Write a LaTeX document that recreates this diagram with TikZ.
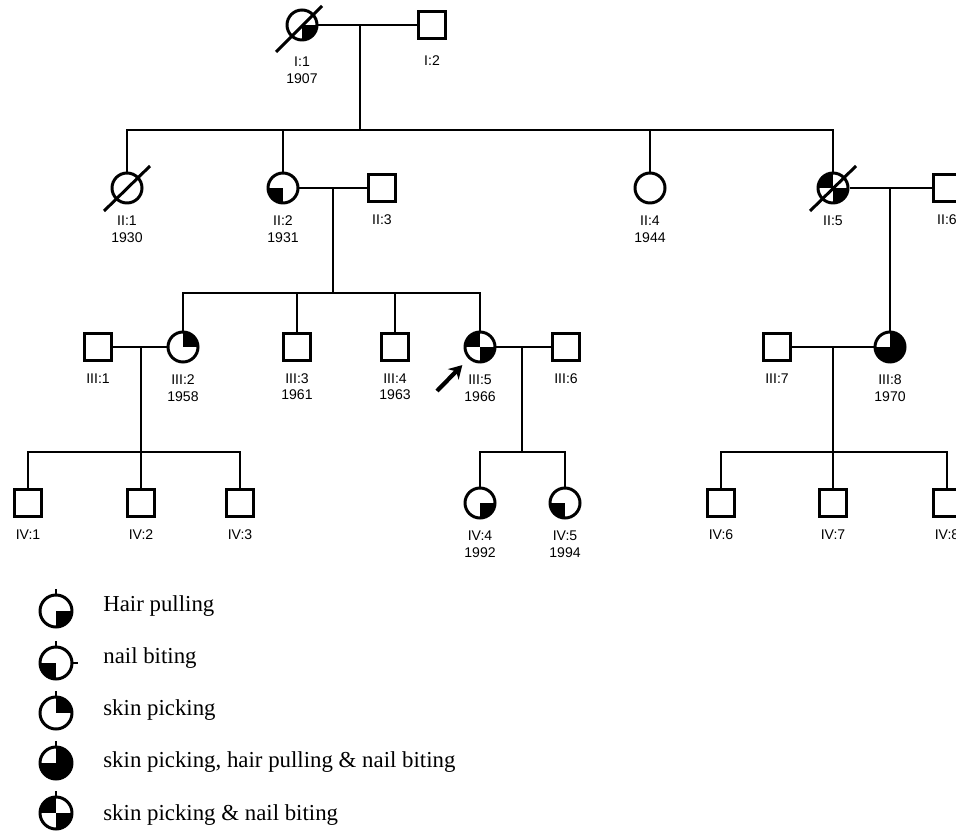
\documentclass[tikz,border=0pt]{standalone}
\usepackage{fontspec}
\setmainfont{Liberation Serif}
\setsansfont{Liberation Sans}
\usetikzlibrary{arrows.meta,positioning,calc}

\begin{document}
\begin{tikzpicture}[
    x=0.02cm, y=-0.02cm,
    male/.style={rectangle, draw=black, fill=white, line width=1.7pt, minimum size=0.54cm, inner sep=0pt},
    female/.style={circle, draw=black, fill=white, line width=1.7pt, minimum size=0.6cm, inner sep=0pt},
    quad/.style={path picture={\foreach \c in {#1} {\fill[black] (path picture bounding box.center) rectangle (path picture bounding box.\c);}}},
    idlab/.style={font=\sffamily\fontsize{8}{9}\selectfont, inner sep=0pt},
    yearlab/.style={font=\sffamily\fontsize{8}{9}\selectfont, inner sep=0pt},
    line/.style={line width=1.1pt},
    dead/.style={line width=1.7pt},
    proband/.style={-{Stealth[length=0.26cm, width=0.3cm]}, line width=2.4pt, shorten >=5pt},
    legtext/.style={anchor=west, font=\fontsize{13}{15}\selectfont, inner sep=0pt}
]
\useasboundingbox (0,0) rectangle (956,831);

% Generation I
\node[female, quad={south east}] (i1) at (302,25) {};
\node[male] (i2) at (432,25) {};
\draw[line] (i1) -- (i2);
\draw[dead] ($(i1)+(-26,27)$) -- ($(i1)+(20,-19)$);
\node[idlab, below=0.3cm of i1] (i1l) {I:1};
\node[yearlab, below=0.12cm of i1l] (i1y) {1907};
\node[idlab, below=0.3cm of i2] (i2l) {I:2};
\coordinate (m1) at (360,25);
\coordinate (s1) at (360,130);
\draw[line] (m1) -- (s1);

% Generation II
\node[female] (ii1) at (127,188) {};
\node[female, quad={south west}] (ii2) at (283,188) {};
\node[male] (ii3) at (382,188) {};
\node[female] (ii4) at (650,188) {};
\node[female, quad={north west,south east}] (ii5) at (833,188) {};
\node[male] (ii6) at (947,188) {};
\draw[dead] ($(ii1)+(-23,23)$) -- ($(ii1)+(23,-22)$);
\draw[dead] ($(ii5)+(-23,23)$) -- ($(ii5)+(23,-22)$);
\foreach \n in {ii1,ii2,ii4,ii5} \draw[line] (\n) |- (s1);
\draw[line] (ii2) -- (ii3);
\draw[line] (ii5) -- (ii6);
\node[idlab, below=0.22cm of ii1] (ii1l) {II:1};
\node[yearlab, below=0.12cm of ii1l] (ii1y) {1930};
\node[idlab, below=0.22cm of ii2] (ii2l) {II:2};
\node[yearlab, below=0.12cm of ii2l] (ii2y) {1931};
\node[idlab, below=0.22cm of ii3] (ii3l) {II:3};
\node[idlab, below=0.22cm of ii4] (ii4l) {II:4};
\node[yearlab, below=0.12cm of ii4l] (ii4y) {1944};
\node[idlab, below=0.22cm of ii5] (ii5l) {II:5};
\node[idlab, below=0.22cm of ii6] (ii6l) {II:6};
\coordinate (m2) at (333,188);
\coordinate (s2) at (333,293);
\draw[line] (m2) -- (s2);
\coordinate (m3) at (890,188);

% Generation III
\node[male] (iii1) at (98,347) {};
\node[female, quad={north east}] (iii2) at (183,347) {};
\node[male] (iii3) at (297,347) {};
\node[male] (iii4) at (395,347) {};
\node[female, quad={north west,south east}] (iii5) at (480,347) {};
\node[male] (iii6) at (566,347) {};
\node[male] (iii7) at (777,347) {};
\node[female, quad={north east,south east,south west}] (iii8) at (890,347) {};
\foreach \n in {iii2,iii3,iii4,iii5} \draw[line] (\n) |- (s2);
\draw[line] (m3) -- (iii8);
\draw[line] (iii1) -- (iii2);
\draw[line] (iii5) -- (iii6);
\draw[line] (iii7) -- (iii8);
\node[idlab, below=0.22cm of iii1] (iii1l) {III:1};
\node[idlab, below=0.22cm of iii2] (iii2l) {III:2};
\node[yearlab, below=0.12cm of iii2l] (iii2y) {1958};
\node[idlab, below=0.22cm of iii3] (iii3l) {III:3};
\node[yearlab, below=0.12cm of iii3l] (iii3y) {1961};
\node[idlab, below=0.22cm of iii4] (iii4l) {III:4};
\node[yearlab, below=0.12cm of iii4l] (iii4y) {1963};
\node[idlab, below=0.22cm of iii5] (iii5l) {III:5};
\node[yearlab, below=0.12cm of iii5l] (iii5y) {1966};
\node[idlab, below=0.22cm of iii6] (iii6l) {III:6};
\node[idlab, below=0.22cm of iii7] (iii7l) {III:7};
\node[idlab, below=0.22cm of iii8] (iii8l) {III:8};
\node[yearlab, below=0.12cm of iii8l] (iii8y) {1970};
\coordinate (pa) at (437,391);
\draw[proband] (pa) -- (iii5);
\coordinate (m4) at (141,347);
\coordinate (s4) at (141,452);
\coordinate (m5) at (522,347);
\coordinate (s5) at (522,452);
\coordinate (m6) at (833,347);
\coordinate (s6) at (833,452);
\draw[line] (m4) -- (s4);
\draw[line] (m5) -- (s5);
\draw[line] (m6) -- (s6);

% Generation IV
\node[male] (iv1) at (28,503) {};
\node[male] (iv2) at (141,503) {};
\node[male] (iv3) at (240,503) {};
\node[female, quad={south east}] (iv4) at (480,503) {};
\node[female, quad={south west}] (iv5) at (565,503) {};
\node[male] (iv6) at (721,503) {};
\node[male] (iv7) at (833,503) {};
\node[male] (iv8) at (947,503) {};
\foreach \n in {iv1,iv2,iv3} \draw[line] (\n) |- (s4);
\foreach \n in {iv4,iv5} \draw[line] (\n) |- (s5);
\foreach \n in {iv6,iv7,iv8} \draw[line] (\n) |- (s6);
\node[idlab, below=0.22cm of iv1] (iv1l) {IV:1};
\node[idlab, below=0.22cm of iv2] (iv2l) {IV:2};
\node[idlab, below=0.22cm of iv3] (iv3l) {IV:3};
\node[idlab, below=0.22cm of iv4] (iv4l) {IV:4};
\node[yearlab, below=0.12cm of iv4l] (iv4y) {1992};
\node[idlab, below=0.22cm of iv5] (iv5l) {IV:5};
\node[yearlab, below=0.12cm of iv5l] (iv5y) {1994};
\node[idlab, below=0.22cm of iv6] (iv6l) {IV:6};
\node[idlab, below=0.22cm of iv7] (iv7l) {IV:7};
\node[idlab, below=0.22cm of iv8] (iv8l) {IV:8};

% Legend
\node[female, minimum size=0.64cm, quad={south east}] (lg1) at (56,611) {};
\node[female, minimum size=0.64cm, quad={south west}] (lg2) at (56,663) {};
\node[female, minimum size=0.64cm, quad={north east}] (lg3) at (56,713) {};
\node[female, minimum size=0.64cm, quad={north east,south east,south west}] (lg4) at (56,763) {};
\node[female, minimum size=0.64cm, quad={north west,south east}] (lg5) at (56,813) {};
\foreach \n in {lg1,lg2,lg3,lg4,lg5} \draw[line] (\n.north) -- ++(0,-5);
\draw[line] (lg2.east) -- ++(5,0);
\node[legtext] (t1) at (103,606) {Hair pulling};
\node[legtext] (t2) at (103,658) {nail biting};
\node[legtext] (t3) at (103,710) {skin picking};
\node[legtext] (t4) at (103,762) {skin picking, hair pulling \& nail biting};
\node[legtext] (t5) at (103,815) {skin picking \& nail biting};

\end{tikzpicture}
\end{document}
